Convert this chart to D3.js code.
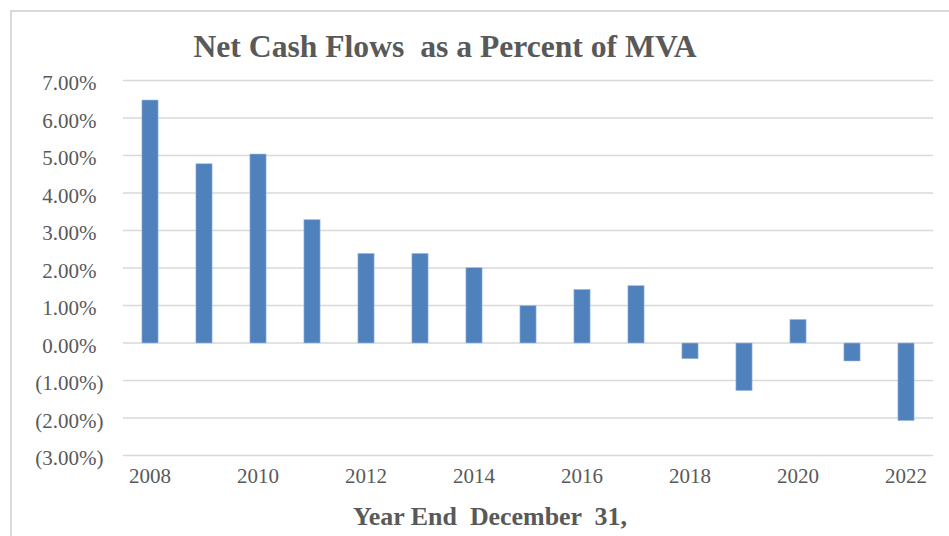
<!DOCTYPE html>
<html>
<head>
<meta charset="utf-8">
<script src="https://cdn.jsdelivr.net/npm/d3@7"></script>
<style>
  html, body { margin: 0; padding: 0; background: #fff; }
  svg { display: block; }
</style>
</head>
<body>
<svg id="chart" width="949" height="536"></svg>
<script>
const years = [2008, 2009, 2010, 2011, 2012, 2013, 2014, 2015, 2016, 2017, 2018, 2019, 2020, 2021, 2022];
const netCashFlowPct = [6.48, 4.78, 5.04, 3.29, 2.39, 2.39, 2.01, 1.00, 1.43, 1.53, -0.42, -1.27, 0.63, -0.48, -2.07];
const yTicks = [-3, -2, -1, 0, 1, 2, 3, 4, 5, 6, 7];
const xTickLabels = [2008, 2010, 2012, 2014, 2016, 2018, 2020, 2022];
const titleText = "Net Cash Flows  as a Percent of MVA";
const xAxisTitle = "Year End  December  31,";

(function () {
  const FONT = '"Liberation Serif", "Times New Roman", serif';
  const TEXT_COLOR = "#595959";
  const svg = d3.select("#chart");

  // outer chart border (left and top visible)
  svg.append("path")
    .attr("d", "M11,536 L11,11 L949,11")
    .attr("fill", "none")
    .attr("stroke", "#d9d9d9")
    .attr("stroke-width", 2);

  const plotLeft = 123, plotRight = 933, plotTop = 80.5, plotBottom = 455.5;

  const x = d3.scaleBand()
    .domain(years)
    .range([plotLeft, plotRight])
    .paddingInner(0.7)
    .paddingOuter(0.35);

  const y = d3.scaleLinear()
    .domain([-3, 7])
    .range([plotBottom, plotTop]);

  const fmt = v => {
    const s = Math.abs(v).toFixed(2) + "%";
    return v < 0 ? "(" + s + ")" : s;
  };

  // gridlines
  svg.append("g").selectAll("line")
    .data(yTicks)
    .join("line")
    .attr("x1", plotLeft).attr("x2", plotRight)
    .attr("y1", d => y(d)).attr("y2", d => y(d))
    .attr("stroke", "#d9d9d9")
    .attr("stroke-width", 1.5);

  // y labels
  svg.append("g").selectAll("text")
    .data(yTicks)
    .join("text")
    .attr("x", d => d < 0 ? 103.5 : 96.5)
    .attr("y", d => y(d) + 9.5)
    .attr("text-anchor", "end")
    .style("font-family", FONT)
    .style("font-size", "21px")
    .style("fill", TEXT_COLOR)
    .text(d => fmt(d));

  // bars
  svg.append("g").selectAll("rect")
    .data(years.map((yr, i) => ({ yr, v: netCashFlowPct[i] })))
    .join("rect")
    .attr("x", d => x(d.yr))
    .attr("width", x.bandwidth())
    .attr("y", d => y(Math.max(0, d.v)))
    .attr("height", d => Math.abs(y(d.v) - y(0)))
    .attr("fill", "#4f81bd")
    .attr("stroke", "#a9c1e0")
    .attr("stroke-width", 0.6);

  // x labels
  svg.append("g").selectAll("text")
    .data(xTickLabels)
    .join("text")
    .attr("x", d => x(d) + x.bandwidth() / 2)
    .attr("y", 482.5)
    .attr("text-anchor", "middle")
    .style("font-family", FONT)
    .style("font-size", "21px")
    .style("fill", TEXT_COLOR)
    .text(d => d);

  // title
  svg.append("text")
    .attr("x", 445)
    .attr("y", 57)
    .attr("text-anchor", "middle")
    .attr("textLength", 503)
    .attr("lengthAdjust", "spacingAndGlyphs")
    .style("font-family", FONT)
    .style("font-size", "32px")
    .style("font-weight", "bold")
    .style("fill", TEXT_COLOR)
    .style("white-space", "pre")
    .text(titleText);

  // x axis title
  svg.append("text")
    .attr("x", 490)
    .attr("y", 525)
    .attr("text-anchor", "middle")
    .attr("textLength", 274)
    .attr("lengthAdjust", "spacingAndGlyphs")
    .style("font-family", FONT)
    .style("font-size", "26px")
    .style("font-weight", "bold")
    .style("fill", TEXT_COLOR)
    .style("white-space", "pre")
    .text(xAxisTitle);
})();
</script>
</body>
</html>
